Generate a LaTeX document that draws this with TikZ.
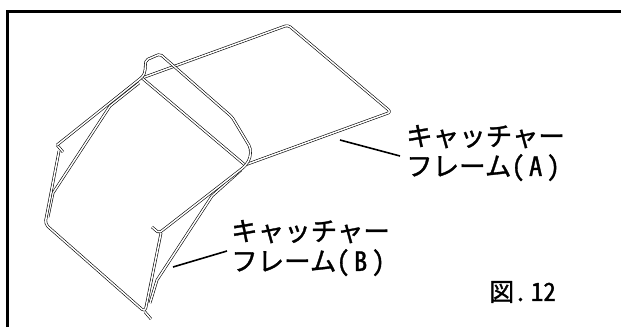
\documentclass[tikz,border=0pt]{standalone}
\usepackage{fontspec}
\newfontfamily\cjk[RawFeature=+hwid,FakeBold=1.2]{Noto Sans CJK JP}
\begin{document}
\begin{tikzpicture}[x=1pt,y=-1pt]
\tikzstyle{wire}=[draw=black,line width=0.6pt,double=white,double distance=1.5pt,line join=round]
\tikzstyle{lbl}=[font=\cjk\fontsize{26.5}{30}\selectfont,align=left,inner sep=0pt,anchor=west]
\tikzstyle{leader}=[draw=black,line width=1.6pt]
\useasboundingbox (0,0) rectangle (621,327);
\fill[white] (0,0) rectangle (621,327);
\draw[line width=3pt] (7.5,327) -- (7.5,11) -- (621,11);
% frame A
\draw[wire,rounded corners=3pt] (142,78) -- (288,25) -- (391,112) -- (245,165);
\draw[wire] (142,78) -- (245,165);
% braces
\draw[wire] (139,83) -- (110,106) -- (53,193) -- (48,217);
\draw[wire] (241,170) -- (212,196) -- (157,280) -- (150,303);
% frame B
\draw[wire] (57,145) -- (63,152);
\draw[wire,rounded corners=2pt] (57,145) -- (141,78) .. controls (146,73) and (145,66) .. (146,60) -- (160,54) -- (232,117) -- (250,147) .. controls (251,155) and (250,160) .. (244,167) -- (159,233) -- (152,227);
\draw[wire,rounded corners=4pt] (161,233) -- (145,312) -- (45,224) -- (59,151);
\draw[wire] (145,312) -- (151,319);
\node[lbl] at (406,153) (framea) {キャッチャー\\フレーム(\,A\,)};
\node[lbl] at (231,248) (frameb) {キャッチャー\\フレーム(\,B\,)};
\node[font=\cjk\fontsize{25}{25}\selectfont,inner sep=0pt,anchor=west] at (489,292) (fig) {図.\,12};
\coordinate (tipa) at (340,140);
\coordinate (taila) at (400,156);
\coordinate (tipb) at (173,267);
\coordinate (tailb) at (227,251);
\draw[leader] (tipa) -- (taila);
\draw[leader] (tipb) -- (tailb);
\end{tikzpicture}
\end{document}
